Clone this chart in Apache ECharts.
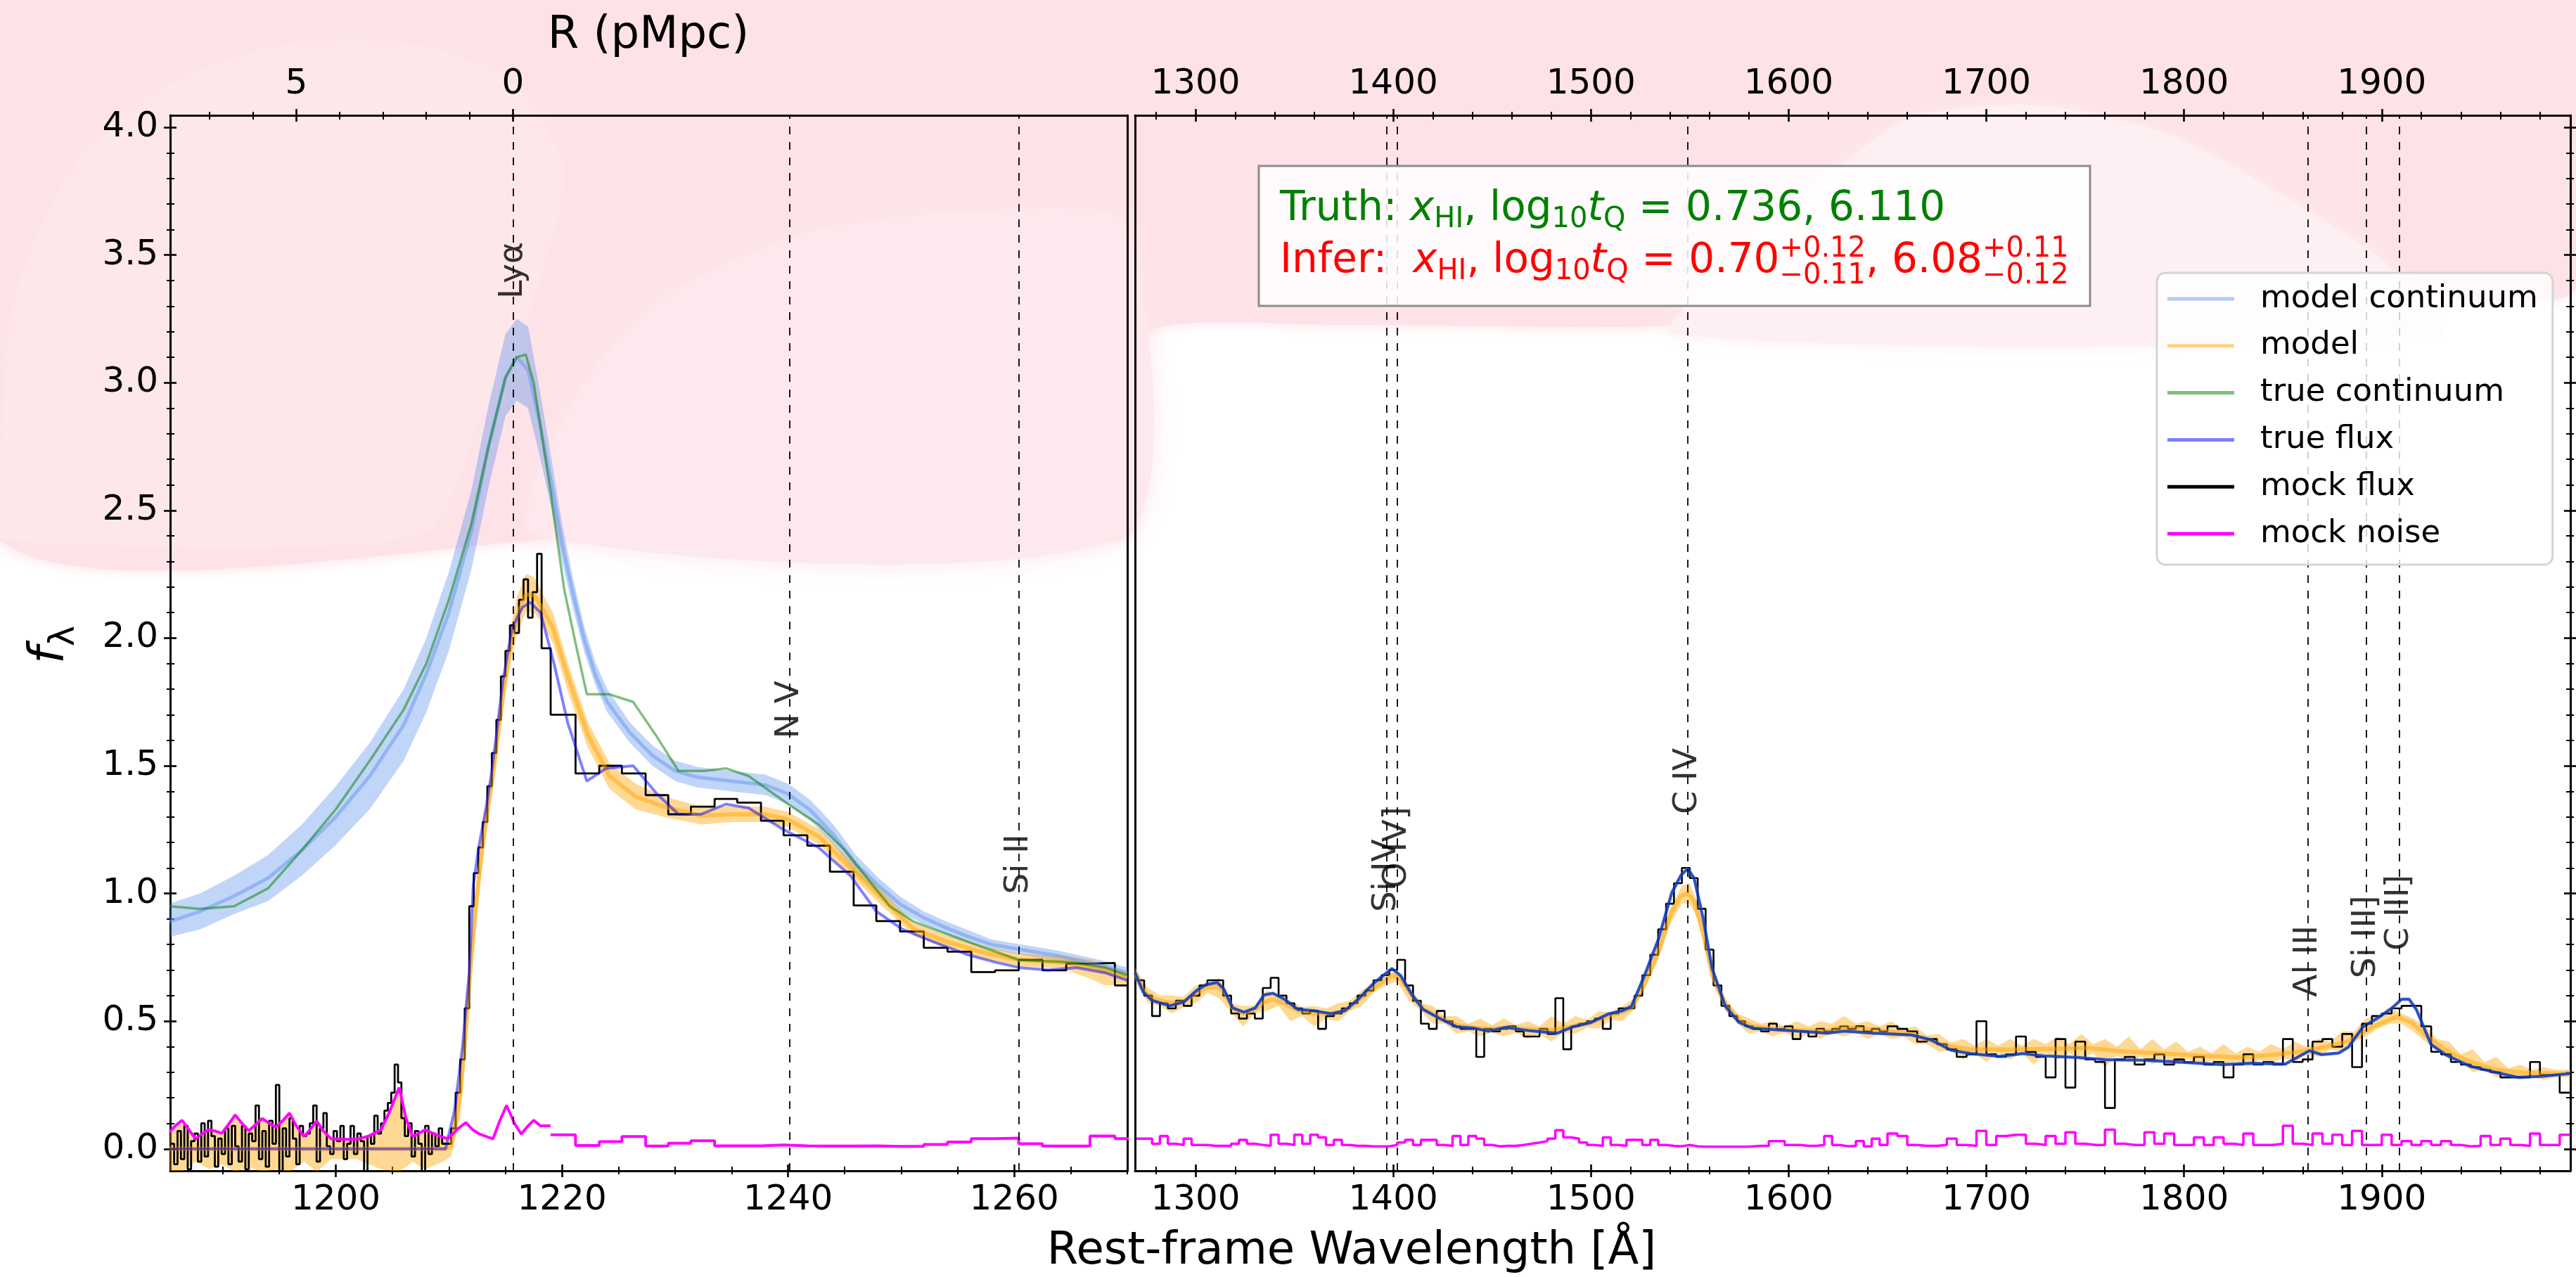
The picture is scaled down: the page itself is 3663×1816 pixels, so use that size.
<!DOCTYPE html>
<html>
<head>
<meta charset="utf-8">
<script src="https://cdn.jsdelivr.net/npm/echarts@6/dist/echarts.min.js"></script>
<style>
  html, body { margin: 0; padding: 0; background: #ffffff; }
  #chart { width: 3663px; height: 1816px; }
</style>
</head>
<body>
<div id="chart"></div>
<script>
// ---------------------------------------------------------------------------
// Quasar spectrum: Lyα region (left panel) and red side (right panel)
// ---------------------------------------------------------------------------
const FONT = '"DejaVu Sans", sans-serif';
const TICK_FS = 50;

// axis ranges
const L_MIN = 1185.35, L_MAX = 1270.0;
const R_MIN = 1269.4, R_MAX = 1995.4;
const Y_MIN = -0.086, Y_MAX = 4.047;

// proper distance axis: R = 0 at Lyα, linear in wavelength
const LYA = 1215.67;
const ANG_PER_PMPC = 3.833;

// tick positions / labels
const leftMajor = [1200, 1220, 1240, 1260];
const leftMinor = [1190, 1195, 1205, 1210, 1215, 1225, 1230, 1235, 1245, 1250, 1255, 1265, 1270];
const rightMajor = [1300, 1400, 1500, 1600, 1700, 1800, 1900];
const rightMinor = [1280, 1320, 1340, 1360, 1380, 1420, 1440, 1460, 1480, 1520, 1540, 1560, 1580,
                    1620, 1640, 1660, 1680, 1720, 1740, 1760, 1780, 1820, 1840, 1860, 1880, 1920, 1940, 1960, 1980];
const yMajor = [0, 0.5, 1.0, 1.5, 2.0, 2.5, 3.0, 3.5, 4.0];
const rMajor = [5, 0];
const rMinor = [1, 2, 3, 4, 6, 7];

// emission-line markers
const leftLineMarks = [['Lyα', 1215.67, 3.44], ['N V', 1240.14, 1.72], ['Si II', 1260.42, 1.115]];
const rightLineMarks = [['Si IV', 1396.76, 1.07], ['O IV]', 1402.06, 1.18], ['C IV', 1549.06, 1.44],
                        ['Al III', 1862.79, 0.735], ['Si III]', 1892.03, 0.83], ['C III]', 1908.73, 0.925]];

// ---------------- left panel ----------------
// model continuum: centre and 1-sigma band [λ, lo, hi]
const modelContLeft = [[1185.3,0.89],[1188,0.93],[1191,0.99],[1194,1.06],[1197,1.17],[1200,1.30],[1203,1.46],[1206,1.66],
  [1208,1.86],[1210,2.10],[1212,2.42],[1213.5,2.75],[1215,3.02],[1216,3.10],[1217,3.05],[1218,2.85],[1219,2.62],[1220,2.37],
  [1221,2.17],[1222,1.99],[1223,1.85],[1224,1.75],[1226,1.63],[1228,1.54],[1230,1.48],[1232,1.455],[1234,1.445],[1236,1.435],
  [1238,1.425],[1240,1.39],[1242,1.325],[1244,1.23],[1246,1.115],[1248,1.03],[1250,0.955],[1252,0.905],[1254,0.865],
  [1256,0.83],[1258,0.80],[1260,0.785],[1262,0.77],[1264,0.755],[1266,0.735],[1268,0.715],[1270,0.69]];
const modelContBandLeft = [[1185.3,0.83,0.96],[1188,0.86,1.00],[1191,0.92,1.07],[1194,0.97,1.15],[1197,1.07,1.27],
  [1200,1.19,1.42],[1203,1.33,1.59],[1206,1.52,1.80],[1208,1.71,2.00],[1210,1.95,2.26],[1212,2.27,2.58],[1213.5,2.59,2.91],
  [1215,2.87,3.19],[1216,2.93,3.25],[1217,2.90,3.22],[1218,2.72,2.98],[1219,2.52,2.72],[1220,2.30,2.45],[1221,2.11,2.23],
  [1222,1.94,2.04],[1223,1.81,1.90],[1224,1.71,1.80],[1226,1.59,1.67],[1228,1.50,1.58],[1230,1.44,1.52],[1232,1.415,1.495],
  [1234,1.405,1.485],[1236,1.395,1.475],[1238,1.385,1.465],[1240,1.35,1.43],[1242,1.285,1.365],[1244,1.19,1.27],
  [1246,1.08,1.15],[1248,1.00,1.06],[1250,0.925,0.985],[1252,0.88,0.93],[1254,0.84,0.89],[1256,0.805,0.855],
  [1258,0.78,0.82],[1260,0.765,0.805],[1262,0.75,0.79],[1264,0.735,0.775],[1266,0.715,0.755],[1268,0.695,0.735],[1270,0.67,0.71]];

// model flux: centre and band
const modelLeft = [[1185.3,0],[1209.7,0],[1210.2,0.01],[1211,0.21],[1211.5,0.46],[1212,0.75],[1212.5,1.0],[1213,1.2],
  [1213.5,1.35],[1214,1.5],[1214.5,1.68],[1215,1.85],[1215.5,1.98],[1216,2.08],[1216.8,2.17],[1217.5,2.17],[1218.2,2.12],
  [1219.2,2.04],[1220.6,1.84],[1222.3,1.62],[1224.2,1.46],[1226.5,1.38],[1229,1.34],[1232.3,1.305],[1235.1,1.31],
  [1237.9,1.31],[1240,1.29],[1242.8,1.22],[1245.3,1.11],[1248.1,0.99],[1251.1,0.86],[1254.1,0.81],[1257.2,0.77],
  [1260.4,0.74],[1264.3,0.73],[1266.8,0.71],[1270,0.67]];
const modelBandLeft = [[1185.3,-0.09,0.066],[1186.4,-0.09,0.112],[1187.6,-0.05,0.039],[1188.8,-0.08,0.075],
  [1189.9,-0.06,0.061],[1191.1,-0.09,0.133],[1192.3,-0.07,0.071],[1193.5,-0.09,0.119],[1194.7,-0.08,0.085],
  [1195.9,-0.09,0.14],[1197.2,-0.05,0.048],[1198.3,-0.09,0.109],[1199.6,-0.04,0.039],[1201.8,-0.04,0.037],
  [1204,-0.08,0.075],[1205.6,-0.09,0.24],[1206.8,-0.05,0.048],[1207.9,-0.08,0.075],[1209.5,-0.05,0.045],
  [1210.2,-0.03,0.06],[1211,0.12,0.30],[1211.5,0.38,0.55],[1212,0.68,0.82],
  [1212.5,0.93,1.07],[1213,1.13,1.27],[1213.5,1.29,1.41],[1214,1.44,1.56],[1214.5,1.62,1.74],[1215,1.78,1.91],
  [1215.5,1.91,2.05],[1216,2.01,2.16],[1216.8,2.10,2.25],[1217.5,2.10,2.24],[1218.2,2.06,2.18],[1219.2,1.98,2.10],
  [1220.6,1.78,1.89],[1222.3,1.57,1.67],[1224.2,1.41,1.51],[1226.5,1.33,1.43],[1229,1.30,1.38],[1232.3,1.27,1.34],
  [1235.1,1.28,1.34],[1237.9,1.28,1.34],[1240,1.26,1.32],[1242.8,1.19,1.25],[1245.3,1.08,1.14],[1248.1,0.96,1.02],
  [1251.1,0.835,0.885],[1254.1,0.785,0.835],[1257.2,0.745,0.795],[1260.4,0.715,0.765],[1264.3,0.705,0.755],
  [1266.8,0.665,0.74],[1268,0.64,0.72],[1270,0.645,0.69]];

const trueContLeft = [[1185.3,0.95],[1188,0.94],[1191,0.95],[1194,1.02],[1197,1.17],[1200,1.33],[1203,1.52],[1206,1.72],
  [1208,1.90],[1210,2.15],[1212,2.45],[1213.5,2.75],[1215,3.02],[1216,3.10],[1216.8,3.11],[1217.5,3.0],[1218.2,2.80],
  [1219,2.57],[1220.2,2.19],[1221.2,1.98],[1222.2,1.78],[1224.2,1.78],[1226.3,1.75],[1228.3,1.62],[1230.3,1.48],
  [1232.6,1.48],[1234.5,1.49],[1236.5,1.46],[1240,1.35],[1242.7,1.27],[1245,1.17],[1247,1.06],[1249,0.95],[1251.1,0.89],
  [1254.1,0.84],[1257.2,0.79],[1260.4,0.74],[1265.3,0.73],[1268,0.71],[1270,0.68]];

const trueFluxLeft = [[1185.3,0],[1209.7,0],[1210.5,0.15],[1211.2,0.4],[1211.8,0.69],[1212.15,1.03],[1212.6,1.17],
  [1213.3,1.34],[1213.7,1.45],[1214.2,1.62],[1214.8,1.84],[1215.6,2.04],[1216.5,2.12],[1217.2,2.14],[1218.1,2.10],
  [1219.3,1.90],[1220.5,1.67],[1222.2,1.44],[1223.9,1.49],[1226.3,1.50],[1228.4,1.39],[1230.3,1.31],[1232.3,1.31],
  [1234.5,1.35],[1236.5,1.335],[1239.6,1.25],[1242.7,1.18],[1245.5,1.07],[1247.8,0.93],[1250.1,0.86],[1252.9,0.81],
  [1255.9,0.76],[1258.4,0.73],[1260.4,0.71],[1263,0.70],[1265.5,0.71],[1268,0.69],[1270,0.66]];

// mock spectrum in the proximity zone: 0.3 Å pixels from 1185.4 Å
const troughBins = { start: 1185.4, width: 0.3 };
const troughFlux = [
  0.02, -0.06, 0.07, -0.04, 0.09, -0.08, 0.03, 0.06, -0.05, 0.10,
  -0.03, 0.11, 0.05, -0.07, 0.04, -0.02, 0.08, -0.06, 0.09, 0.01,
  -0.05, 0.09, -0.08, 0.06, 0.03, 0.17, -0.04, 0.07, -0.07, 0.11,
  0.02, 0.25, -0.09, 0.08, -0.03, 0.12, 0.04, -0.06, 0.09, 0.05,
  0.06, 0.10, 0.17, -0.05, 0.08, 0.14, 0.01, -0.02, 0.07, 0.03,
  0.09, -0.04, 0.02, 0.09, -0.02, 0.06, 0.03, -0.09, 0.05, 0.02,
  0.13, 0.06, 0.10, 0.15, 0.18, 0.22, 0.33, 0.26, 0.12, 0.05,
  0.10, -0.03, 0.07, 0.02, -0.09, 0.09, -0.02, 0.06, 0.01, 0.08, 0.02];
// mock spectrum across the Lyα edge: 0.4 Å pixels from 1209.8 Å
const edgeBins = { start: 1209.8, width: 0.4 };
const edgeFlux = [0.02, 0.08, 0.22, 0.35, 0.55, 0.95, 1.08, 1.18, 1.28, 1.42, 1.55, 1.68, 1.85, 1.95, 2.05, 2.02,
  2.15, 2.23, 2.08, 2.18, 2.33, 1.96, 1.96];
const leftNoiseFine = [[1185.3,0.066],[1185.8,0.09],[1186.4,0.112],[1187,0.075],[1187.6,0.039],[1188.2,0.06],[1188.8,0.075],
  [1189.3,0.07],[1189.9,0.061],[1190.5,0.095],[1191.1,0.133],[1191.7,0.1],[1192.3,0.071],[1192.9,0.095],[1193.5,0.119],
  [1194.1,0.1],[1194.7,0.085],[1195.3,0.11],[1195.9,0.14],[1196.5,0.09],[1197.2,0.048],[1197.8,0.08],[1198.3,0.109],
  [1198.9,0.07],[1199.6,0.039],[1200.7,0.037],[1201.8,0.037],[1202.9,0.05],[1204,0.075],[1204.8,0.15],[1205.6,0.24],
  [1206.2,0.12],[1206.8,0.048],[1207.3,0.06],[1207.9,0.075],[1208.9,0.055],[1209.9,0.039],[1210.7,0.075],[1211.5,0.103],
  [1212.1,0.075],[1212.7,0.058],[1213.9,0.039],[1214.5,0.11],[1215.1,0.17],[1215.8,0.1],[1216.4,0.058],[1217,0.09],
  [1217.5,0.112],[1218.1,0.09],[1219,0.09]];

// mock spectrum: coarse pixels redward of 1219 Å (left bin edges)
const leftCoarseEdges = [1219.0, 1221.2, 1223.3, 1225.3, 1227.4, 1229.4, 1231.4, 1233.5, 1235.5, 1237.6, 1239.6, 1241.7,
  1243.7, 1245.8, 1247.8, 1249.9, 1252.0, 1254.1, 1256.2, 1258.3, 1260.4, 1262.5, 1264.6, 1266.7, 1268.9];
const leftCoarseEnd = 1271.0;
const leftCoarseFlux = [1.70, 1.47, 1.50, 1.47, 1.385, 1.31, 1.34, 1.37, 1.356, 1.285, 1.228, 1.187, 1.085, 0.953,
  0.892, 0.851, 0.787, 0.772, 0.692, 0.699, 0.74, 0.699, 0.725, 0.728, 0.64];
const leftCoarseNoise = [0.055, 0.013, 0.028, 0.048, 0.011, 0.022, 0.032, 0.012, 0.012, 0.015, 0.012, 0.011, 0.011,
  0.012, 0.010, 0.010, 0.017, 0.027, 0.040, 0.042, 0.020, 0.011, 0.011, 0.050, 0.040];

// ---------------- right panel ----------------
// continuum (model and truth coincide here) and unabsorbed true flux
const trueContRight = [[1269.4,0.69],[1273.5,0.615],[1278,0.581],[1287,0.56],[1294,0.575],[1300.7,0.621],[1305.3,0.643],
  [1311,0.651],[1314.3,0.626],[1318.8,0.552],[1324.5,0.535],[1330.2,0.552],[1334.7,0.603],[1339.2,0.609],[1344.9,0.586],
  [1351.7,0.546],[1359.6,0.541],[1368.7,0.529],[1375.5,0.541],[1382.3,0.586],[1390.2,0.649],[1399.3,0.706],[1403.8,0.678],
  [1409.5,0.603],[1415.1,0.546],[1423.1,0.512],[1432.1,0.478],[1441.2,0.472],[1448,0.461],[1457,0.476],[1468.4,0.463],
  [1479.7,0.455],[1483,0.453],[1491,0.478],[1500,0.495],[1509,0.529],[1516,0.541],[1520.5,0.558],[1527.3,0.683],
  [1534.1,0.82],[1540.9,1.003],[1545.5,1.071],[1548.9,1.097],[1552.2,1.06],[1556.8,0.9],[1561.3,0.706],[1568,0.558],
  [1575,0.495],[1581.7,0.472],[1593,0.467],[1604.4,0.461],[1619.8,0.453],[1628,0.461],[1643,0.453],[1662,0.446],
  [1672,0.427],[1682,0.387],[1692,0.373],[1706.5,0.362],[1718.7,0.373],[1728.5,0.364],[1745.7,0.358],[1760.4,0.349],
  [1780,0.347],[1799.7,0.339],[1819.3,0.33],[1834,0.335],[1851.2,0.332],[1858.6,0.364],[1863.5,0.384],[1869.6,0.369],
  [1878.2,0.375],[1883.1,0.398],[1890.5,0.478],[1897.9,0.512],[1905.2,0.552],[1910.1,0.586],[1913.8,0.586],[1917.5,0.546],
  [1924.9,0.409],[1932.2,0.369],[1944.5,0.324],[1956.8,0.301],[1969,0.28],[1981.3,0.284],[1995.4,0.295]];

const modelRight = [[1269.4,0.69],[1273.5,0.62],[1278,0.59],[1287,0.57],[1294,0.575],[1300.7,0.61],[1305.3,0.63],[1311,0.635],
  [1314.3,0.615],[1318.8,0.55],[1324.5,0.53],[1330.2,0.545],[1334.7,0.575],[1339.2,0.585],[1344.9,0.57],[1351.7,0.54],
  [1359.6,0.53],[1368.7,0.53],[1375.5,0.54],[1382.3,0.58],[1390.2,0.63],[1399.3,0.68],[1403.8,0.665],[1409.5,0.60],
  [1415.1,0.55],[1423.1,0.515],[1432.1,0.485],[1441.2,0.475],[1448,0.468],[1457,0.475],[1468.4,0.468],[1479.7,0.465],
  [1491,0.48],[1500,0.495],[1509,0.52],[1516,0.535],[1520.5,0.55],[1527.3,0.65],[1534.1,0.77],[1540.9,0.93],[1545.5,0.99],
  [1548.9,1.0],[1552.2,0.97],[1556.8,0.84],[1561.3,0.68],[1568,0.565],[1575,0.505],[1581.7,0.48],[1593,0.47],[1604.4,0.465],
  [1619.8,0.462],[1628,0.478],[1650,0.461],[1662,0.45],[1677,0.41],[1691.7,0.389],[1711,0.389],[1736,0.392],[1750.6,0.395],
  [1770,0.381],[1790,0.373],[1809.5,0.364],[1829,0.358],[1846,0.369],[1858.6,0.381],[1870.9,0.398],[1883,0.421],
  [1895.4,0.478],[1907.7,0.518],[1915,0.495],[1922.4,0.444],[1932.2,0.387],[1944.5,0.341],[1956.8,0.312],[1971.5,0.298],
  [1988.7,0.295],[1995.4,0.295]];
const modelBandRight = [[1269.4,0.66,0.71],[1276,0.57,0.63],[1282,0.56,0.60],[1288,0.53,0.60],[1294,0.555,0.595],
  [1300,0.57,0.64],[1306,0.61,0.65],[1312,0.59,0.67],[1318,0.535,0.57],[1324,0.48,0.56],[1330,0.53,0.56],[1336,0.54,0.62],
  [1342,0.56,0.60],[1348,0.50,0.58],[1354,0.52,0.555],[1360,0.48,0.56],[1366,0.51,0.55],[1372,0.50,0.57],[1378,0.54,0.58],
  [1384,0.56,0.62],[1390,0.61,0.65],[1396,0.64,0.69],[1402,0.655,0.69],[1408,0.58,0.64],[1414,0.54,0.57],[1420,0.49,0.56],
  [1426,0.49,0.52],[1432,0.45,0.52],[1438,0.46,0.49],[1444,0.44,0.51],[1450,0.455,0.485],[1456,0.44,0.51],[1462,0.455,0.485],
  [1468,0.43,0.50],[1474,0.45,0.48],[1480,0.42,0.52],[1486,0.455,0.49],[1492,0.45,0.52],[1498,0.475,0.505],[1504,0.47,0.54],
  [1510,0.505,0.535],[1516,0.50,0.56],[1522,0.55,0.59],[1528,0.64,0.69],[1534,0.74,0.80],[1540,0.88,0.94],[1546,0.96,1.03],
  [1550,0.96,1.04],[1554,0.90,0.96],[1558,0.77,0.83],[1562,0.64,0.69],[1568,0.54,0.59],[1574,0.49,0.53],[1580,0.45,0.51],
  [1586,0.46,0.49],[1592,0.44,0.50],[1598,0.455,0.48],[1604,0.43,0.50],[1610,0.45,0.48],[1616,0.43,0.50],[1622,0.455,0.49],
  [1628,0.44,0.52],[1634,0.455,0.49],[1640,0.43,0.50],[1646,0.45,0.48],[1652,0.43,0.50],[1658,0.44,0.47],[1664,0.41,0.48],
  [1670,0.41,0.445],[1676,0.38,0.45],[1682,0.385,0.415],[1688,0.35,0.43],[1694,0.375,0.405],[1700,0.34,0.43],
  [1706,0.375,0.405],[1712,0.35,0.43],[1718,0.375,0.405],[1724,0.33,0.43],[1730,0.375,0.41],[1736,0.35,0.44],
  [1742,0.375,0.41],[1748,0.35,0.45],[1754,0.375,0.41],[1760,0.32,0.43],[1766,0.365,0.40],[1772,0.34,0.44],
  [1778,0.36,0.39],[1784,0.33,0.43],[1790,0.355,0.39],[1796,0.33,0.42],[1802,0.35,0.38],[1808,0.33,0.40],
  [1814,0.345,0.375],[1820,0.32,0.41],[1826,0.343,0.373],[1832,0.32,0.40],[1838,0.35,0.38],[1844,0.33,0.41],
  [1850,0.355,0.39],[1856,0.34,0.42],[1862,0.37,0.40],[1868,0.36,0.43],[1874,0.39,0.42],[1880,0.38,0.46],[1886,0.42,0.46],
  [1892,0.44,0.51],[1898,0.47,0.52],[1904,0.49,0.55],[1910,0.49,0.53],[1916,0.46,0.51],[1922,0.42,0.48],[1928,0.39,0.43],
  [1934,0.35,0.42],[1940,0.34,0.37],[1946,0.30,0.39],[1952,0.31,0.34],[1958,0.28,0.36],[1964,0.29,0.315],[1970,0.27,0.33],
  [1976,0.28,0.31],[1982,0.27,0.32],[1988,0.28,0.31],[1995.4,0.28,0.31]];

// mock spectrum pixels: 4 Å bins from 1270 Å, then 5 Å bins from 1650 Å
const rightBinsA = { start: 1270, width: 4 };
const rightFluxA = [
  0.66, 0.60, 0.52, 0.57, 0.55, 0.58, 0.56, 0.60, 0.64, 0.66,
  0.66, 0.60, 0.53, 0.51, 0.53, 0.51, 0.63, 0.67, 0.60, 0.57,
  0.55, 0.53, 0.54, 0.47, 0.52, 0.53, 0.55, 0.57, 0.60, 0.62,
  0.66, 0.68, 0.70, 0.74, 0.64, 0.58, 0.49, 0.47, 0.54, 0.50,
  0.48, 0.47, 0.47, 0.36, 0.47, 0.46, 0.47, 0.48, 0.46, 0.44,
  0.44, 0.47, 0.45, 0.59, 0.39, 0.48, 0.49, 0.50, 0.51, 0.47,
  0.53, 0.55, 0.55, 0.60, 0.68, 0.76, 0.86, 0.96, 1.04, 1.10,
  1.06, 0.94, 0.78, 0.64, 0.56, 0.52, 0.50, 0.48, 0.47, 0.46,
  0.49, 0.47, 0.48, 0.43, 0.46, 0.44, 0.47, 0.46, 0.47, 0.48,
  0.47, 0.48, 0.46, 0.47, 0.46];
const rightNoiseA = [
  0.04, 0.04, 0.02, 0.05, 0.02, 0.015, 0.04, 0.015, 0.015, 0.012,
  0.012, 0.012, 0.02, 0.035, 0.02, 0.015, 0.012, 0.055, 0.02, 0.015,
  0.055, 0.02, 0.055, 0.045, 0.015, 0.035, 0.015, 0.012, 0.012, 0.01,
  0.01, 0.01, 0.015, 0.025, 0.035, 0.015, 0.035, 0.035, 0.015, 0.012,
  0.05, 0.015, 0.05, 0.04, 0.015, 0.01, 0.012, 0.012, 0.015, 0.02,
  0.025, 0.03, 0.04, 0.073, 0.045, 0.04, 0.025, 0.015, 0.012, 0.045,
  0.015, 0.012, 0.035, 0.035, 0.015, 0.035, 0.015, 0.012, 0.01, 0.015,
  0.01, 0.008, 0.008, 0.008, 0.008, 0.008, 0.008, 0.01, 0.012, 0.012,
  0.03, 0.03, 0.015, 0.015, 0.012, 0.012, 0.015, 0.05, 0.015, 0.01,
  0.012, 0.03, 0.01, 0.04, 0.015];
const rightBinsB = { start: 1650, width: 5 };
const rightFluxB = [
  0.48, 0.47, 0.46, 0.42, 0.43, 0.41, 0.39, 0.36, 0.37, 0.50,
  0.37, 0.36, 0.37, 0.44, 0.38, 0.36, 0.28, 0.43, 0.24, 0.42,
  0.35, 0.34, 0.16, 0.35, 0.36, 0.33, 0.35, 0.37, 0.33, 0.35,
  0.34, 0.36, 0.33, 0.34, 0.28, 0.33, 0.37, 0.33, 0.34, 0.33,
  0.43, 0.34, 0.35, 0.42, 0.43, 0.40, 0.45, 0.32, 0.49, 0.52,
  0.53, 0.55, 0.56, 0.56, 0.48, 0.38, 0.37, 0.34, 0.33, 0.32,
  0.31, 0.30, 0.28, 0.28, 0.28, 0.34, 0.29, 0.29, 0.22];
const rightNoiseB = [
  0.06, 0.05, 0.015, 0.012, 0.012, 0.015, 0.04, 0.015, 0.012, 0.07,
  0.015, 0.05, 0.055, 0.055, 0.02, 0.015, 0.05, 0.02, 0.065, 0.02,
  0.015, 0.015, 0.075, 0.02, 0.015, 0.015, 0.065, 0.02, 0.06, 0.015,
  0.015, 0.045, 0.015, 0.045, 0.02, 0.015, 0.06, 0.015, 0.015, 0.02,
  0.09, 0.02, 0.015, 0.06, 0.02, 0.055, 0.015, 0.07, 0.015, 0.015,
  0.055, 0.015, 0.03, 0.015, 0.03, 0.015, 0.03, 0.015, 0.01, 0.012,
  0.05, 0.015, 0.04, 0.015, 0.012, 0.06, 0.015, 0.015, 0.055];

// ---------------------------------------------------------------------------
// colours (matplotlib named colours drawn at alpha 0.5)
const C_MODEL_CONT = '#6495ed';   // cornflowerblue
const C_MODEL = '#ffa500';        // orange
const C_TRUE_CONT = '#008000';    // green
const C_TRUE_FLUX = '#0000ff';    // blue
const C_MOCK = '#000000';
const C_NOISE = '#ff00ff';

// ---------------------------------------------------------------------------
// helpers that turn the arrays into series data
function stepData(edges, values, end) {
  const d = edges.map((e, i) => [e, values[i]]);
  d.push([end, values[values.length - 1]]);
  return d;
}
function regularEdges(bins, n) {
  const e = [];
  for (let i = 0; i < n; i++) e.push(+(bins.start + i * bins.width).toFixed(3));
  return e;
}
const troughEdges = regularEdges(troughBins, troughFlux.length);
const edgeEdges = regularEdges(edgeBins, edgeFlux.length);
const leftMockData = troughEdges.map((e, i) => [e, troughFlux[i]])
  .concat(edgeEdges.map((e, i) => [e, edgeFlux[i]]))
  .concat(stepData(leftCoarseEdges, leftCoarseFlux, leftCoarseEnd));
const leftNoiseStep = stepData(leftCoarseEdges, leftCoarseNoise, leftCoarseEnd);

const edgesA = regularEdges(rightBinsA, rightFluxA.length);
const edgesB = regularEdges(rightBinsB, rightFluxB.length);
const rightEnd = rightBinsB.start + rightFluxB.length * rightBinsB.width;
const rightMockData = edgesA.map((e, i) => [e, rightFluxA[i]]).concat(stepData(edgesB, rightFluxB, rightEnd));
const rightNoiseData = edgesA.map((e, i) => [e, rightNoiseA[i]]).concat(stepData(edgesB, rightNoiseB, rightEnd));

// ---------------------------------------------------------------------------
function lineSeries(name, xi, yi, data, color, width, opacity, extra) {
  return Object.assign({
    type: 'line', name, xAxisIndex: xi, yAxisIndex: yi, data,
    symbol: 'none', showSymbol: false, silent: true, animation: false,
    lineStyle: { color, width, opacity }, itemStyle: { color },
    emphasis: { disabled: true }
  }, extra || {});
}
// shaded band between lo and hi, drawn as one polygon through the axis scales
function bandSeries(xi, yi, rows, color, opacity) {
  return {
    type: 'custom', xAxisIndex: xi, yAxisIndex: yi, silent: true, animation: false, clip: true,
    data: rows, encode: { x: 0, y: [1, 2] },
    renderItem: function (params, api) {
      if (params.dataIndex !== 0) return null;
      const upper = rows.map(r => api.coord([r[0], r[2]]));
      const lower = rows.slice().reverse().map(r => api.coord([r[0], r[1]]));
      return { type: 'polygon', shape: { points: upper.concat(lower) }, style: { fill: color, opacity: opacity } };
    }
  };
}
function markerSeries(xi, yi, lines, marks) {
  return {
    type: 'scatter', xAxisIndex: xi, yAxisIndex: yi, silent: true, animation: false,
    symbolSize: 0, clip: false, z: 6,
    data: marks.map(m => ({ name: m[0], value: [m[1], m[2]] })),
    label: { show: true, formatter: '{b}', rotate: 90, position: 'inside',
             fontSize: 47, fontFamily: FONT, color: '#000' },
    markLine: {
      silent: true, symbol: ['none', 'none'], animation: false,
      label: { show: false },
      lineStyle: { type: [11, 11], color: '#000', width: 1.8 },
      data: lines.map(v => ({ xAxis: v }))
    }
  };
}

// axes: each tick set is drawn twice (inward + outward) so ticks straddle the spine
function axisCfg(grid, pos, min, max, ticks, o) {
  o = o || {};
  return {
    type: 'value', gridIndex: grid, position: pos, min, max,
    axisLine: { show: !!o.line, onZero: false, lineStyle: { color: '#000', width: 3 } },
    axisTick: ticks ? { show: true, customValues: ticks, inside: !!o.inside, length: o.len || 9,
                        lineStyle: { color: '#000', width: o.tw || 2.6 } } : { show: false },
    axisLabel: o.labels ? { show: true, customValues: o.labels, formatter: o.fmt || (v => String(v)),
                            fontSize: TICK_FS, fontFamily: FONT, color: '#000', margin: o.margin || 17 }
                        : { show: false },
    splitLine: { show: false }, minorTick: { show: false }, minorSplitLine: { show: false },
    silent: true
  };
}
function tickSet(grid, pos, min, max, major, minor, first) {
  return [
    axisCfg(grid, pos, min, max, major, Object.assign({ line: true }, first || {})),
    axisCfg(grid, pos, min, max, major, { inside: true }),
    axisCfg(grid, pos, min, max, minor, { len: 5, tw: 2 }),
    axisCfg(grid, pos, min, max, minor, { inside: true, len: 6, tw: 2 })
  ];
}

const yMinor = [];
for (let i = 1; i < 40; i++) if (i % 5 !== 0) yMinor.push(+(i * 0.1).toFixed(1));
const rToLambda = r => +(LYA - r * ANG_PER_PMPC).toFixed(3);

const xAxes = []
  // 0-3: left panel, wavelength, bottom
  .concat(tickSet(0, 'bottom', L_MIN, L_MAX, leftMajor, leftMinor, { labels: leftMajor, margin: 17 }))
  // 4-7: left panel, distance from quasar, top
  .concat(tickSet(0, 'top', L_MIN, L_MAX, rMajor.map(rToLambda), rMinor.map(rToLambda),
    { labels: rMajor.map(rToLambda), margin: 19, fmt: v => String(Math.round((LYA - v) / ANG_PER_PMPC)) }))
  // 8-11: right panel, wavelength, bottom
  .concat(tickSet(1, 'bottom', R_MIN, R_MAX, rightMajor, rightMinor, { labels: rightMajor, margin: 17 }))
  // 12-15: right panel, wavelength, top
  .concat(tickSet(1, 'top', R_MIN, R_MAX, rightMajor, rightMinor, { labels: rightMajor, margin: 19 }));

const yAxes = []
  // 0-3: left panel, labelled
  .concat(tickSet(0, 'left', Y_MIN, Y_MAX, yMajor, yMinor, { labels: yMajor, margin: 17, fmt: v => v.toFixed(1) }))
  // 4: left panel right spine
  .concat([axisCfg(0, 'right', Y_MIN, Y_MAX, null, { line: true })])
  // 5: right panel left spine (data axis)
  .concat([axisCfg(1, 'left', Y_MIN, Y_MAX, null, { line: true })])
  // 6-9: right panel, right spine with ticks
  .concat(tickSet(1, 'right', Y_MIN, Y_MAX, yMajor, yMinor));

// ---------------------------------------------------------------------------
// series (drawing order: mock flux, model continuum, model, true continuum, true flux, noise)
const series = [];
// left panel
series.push(lineSeries('mock flux', 0, 0, leftMockData, C_MOCK, 2.8, 1, { step: 'end' }));
series.push(bandSeries(0, 0, modelContBandLeft, C_MODEL_CONT, 0.4));
series.push(lineSeries('model continuum', 0, 0, modelContLeft, C_MODEL_CONT, 5, 0.5));
series.push(bandSeries(0, 0, modelBandLeft, C_MODEL, 0.42));
series.push(lineSeries('model', 0, 0, modelLeft, C_MODEL, 6, 0.5));
series.push(lineSeries('true continuum', 0, 0, trueContLeft, C_TRUE_CONT, 3.5, 0.5));
series.push(lineSeries('true flux', 0, 0, trueFluxLeft, C_TRUE_FLUX, 4, 0.5));
series.push(lineSeries('mock noise', 0, 0, leftNoiseFine, C_NOISE, 4, 1));
series.push(lineSeries('mock noise', 0, 0, leftNoiseStep, C_NOISE, 4, 1, { step: 'end' }));
series.push(markerSeries(0, 0, leftLineMarks.map(m => m[1]), leftLineMarks));
// right panel
series.push(lineSeries('mock flux', 8, 5, rightMockData, C_MOCK, 2.6, 1, { step: 'end' }));
series.push(bandSeries(8, 5, modelBandRight, C_MODEL, 0.42));
series.push(lineSeries('model', 8, 5, modelRight, C_MODEL, 6, 0.5));
series.push(lineSeries('model continuum', 8, 5, trueContRight, C_MODEL_CONT, 5, 0.5));
series.push(lineSeries('true continuum', 8, 5, trueContRight, C_TRUE_CONT, 3.5, 0.5));
series.push(lineSeries('true flux', 8, 5, trueContRight, C_TRUE_FLUX, 4, 0.5));
series.push(lineSeries('mock noise', 8, 5, rightNoiseData, C_NOISE, 3.5, 1, { step: 'end' }));
series.push(markerSeries(8, 5, rightLineMarks.map(m => m[1]), rightLineMarks));

// ---------------------------------------------------------------------------
// text with sub/superscripts, laid out run by run
const measureCtx = document.createElement('canvas').getContext('2d');
function fontStr(size, it) { return (it ? 'italic ' : '') + size + 'px "DejaVu Sans"'; }
function midToBase(size) {
  measureCtx.font = fontStr(size, false);
  measureCtx.textBaseline = 'middle';
  const m = measureCtx.measureText('H');
  return m.actualBoundingBoxDescent || size * 0.32;
}
function textEl(t, x, baseY, size, it, color, z) {
  return {
    type: 'text', x, y: baseY - midToBase(size), z: z || 20, silent: true,
    style: { text: t, fill: color, fontSize: size, fontFamily: FONT, fontStyle: it ? 'italic' : 'normal',
             align: 'left', verticalAlign: 'middle' }
  };
}
function mathRuns(runs, x0, baseY, color) {
  let x = x0; const out = [];
  for (const r of runs) {
    if (r.sup !== undefined) {
      measureCtx.font = fontStr(r.s, false);
      const w = Math.max(measureCtx.measureText(r.sup).width, measureCtx.measureText(r.sub).width);
      out.push(textEl(r.sup, x, baseY + r.supDy, r.s, false, color));
      out.push(textEl(r.sub, x, baseY + r.subDy, r.s, false, color));
      x += w;
    } else {
      measureCtx.font = fontStr(r.s, r.it);
      out.push(textEl(r.t, x, baseY + (r.dy || 0), r.s, r.it, color));
      x += measureCtx.measureText(r.t).width;
    }
  }
  return out;
}

const MAIN = 58, SUB = 40;
const truthRuns = [
  { t: 'Truth: ', s: MAIN }, { t: 'x', s: MAIN, it: true }, { t: 'HI', s: SUB, dy: 10 }, { t: ', ', s: MAIN },
  { t: 'log', s: MAIN }, { t: '10', s: SUB, dy: 10 }, { t: 't', s: MAIN, it: true }, { t: 'Q', s: SUB, dy: 10 },
  { t: ' = ', s: MAIN }, { t: '0.736, 6.110', s: MAIN }];
const inferRuns = [
  { t: 'Infer:  ', s: MAIN }, { t: 'x', s: MAIN, it: true }, { t: 'HI', s: SUB, dy: 10 }, { t: ', ', s: MAIN },
  { t: 'log', s: MAIN }, { t: '10', s: SUB, dy: 10 }, { t: 't', s: MAIN, it: true }, { t: 'Q', s: SUB, dy: 10 },
  { t: ' = ', s: MAIN }, { t: '0.70', s: MAIN }, { sup: '+0.12', sub: '\u22120.11', s: SUB, supDy: -22, subDy: 16 },
  { t: ', ', s: MAIN }, { t: '6.08', s: MAIN }, { sup: '+0.11', sub: '\u22120.12', s: SUB, supDy: -22, subDy: 16 }];

// y-axis label f_λ, rotated
const fLambda = mathRuns([{ t: 'f', s: 70, it: true }, { t: 'λ', s: 50, dy: 15 }], -28, 0, '#000');

// soft pink wash behind the top of the figure
function haze(points, fill, blur) {
  return { type: 'polygon', z: -10, silent: true, shape: { points, smooth: 0.25 },
           style: { fill, shadowBlur: blur || 30, shadowColor: fill } };
}

const graphic = [
  haze([[0,0],[3663,0],[3663,410],[3400,420],[3000,440],[2600,455],[2300,465],[1900,462],[1640,468],
        [1610,560],[1600,765],[900,760],[0,768]], '#fde2e7', 20),
  // lighter arch on the left
  haze([[0,700],[20,430],[110,230],[260,110],[430,60],[600,65],[730,120],[800,240],[760,420],[680,600],[600,760],[0,766]], '#fde7eb', 40),
  // lighter streak right of the arch
  haze([[760,760],[820,560],[950,420],[1150,330],[1400,300],[1600,320],[1600,760]], '#fde9ed', 40),
  // pale wedge on the right
  haze([[2718,167],[2600,250],[2470,360],[2380,475],[3470,475],[3400,380],[3250,280],[3080,190],[2900,150]], '#feeff2', 30),
  // inference summary box
  { type: 'rect', z: 19, silent: true, shape: { x: 1790, y: 236, width: 1182, height: 199 },
    style: { fill: 'rgba(255,255,255,0.85)', stroke: '#8c8c8c', lineWidth: 3 } },
  ...mathRuns(truthRuns, 1820, 313, '#008000'),
  ...mathRuns(inferRuns, 1820, 387, '#ff0000'),
  // axis titles
  { type: 'text', x: 922, y: 68 - midToBase(64), z: 20, silent: true,
    style: { text: 'R (pMpc)', fontSize: 64, fontFamily: FONT, fill: '#000', align: 'center', verticalAlign: 'middle' } },
  { type: 'text', x: 1922, y: 1797 - midToBase(64), z: 20, silent: true,
    style: { text: 'Rest-frame Wavelength [Å]', fontSize: 64, fontFamily: FONT, fill: '#000', align: 'center', verticalAlign: 'middle' } },
  { type: 'group', x: 90, y: 916, rotation: Math.PI / 2, silent: true, children: fLambda }
];

const option = {
  animation: false,
  backgroundColor: '#ffffff',
  textStyle: { fontFamily: FONT },
  grid: [
    { left: 242, top: 164, width: 1361, height: 1501, show: false },
    { left: 1614, top: 164, width: 2041, height: 1501, show: false }
  ],
  xAxis: xAxes,
  yAxis: yAxes,
  legend: {
    orient: 'vertical', left: 3067, top: 388,
    padding: [12, 21, 19, 15], itemGap: 16.8, itemWidth: 95, itemHeight: 5, icon: 'rect',
    backgroundColor: 'rgba(255,255,255,0.8)', borderColor: '#d4d4d4', borderWidth: 3, borderRadius: 12,
    selectedMode: false, z: 30,
    textStyle: { fontSize: 45, fontFamily: FONT, color: '#000', lineHeight: 50, padding: [0, 0, 0, 32] },
    data: [
      { name: 'model continuum', itemStyle: { color: '#b1caf6' } },
      { name: 'model', itemStyle: { color: '#ffd27f' } },
      { name: 'true continuum', itemStyle: { color: '#7fbf7f' } },
      { name: 'true flux', itemStyle: { color: '#7f7fff' } },
      { name: 'mock flux', itemStyle: { color: '#000000' } },
      { name: 'mock noise', itemStyle: { color: '#ff00ff' } }
    ]
  },
  graphic,
  series
};

const chart = echarts.init(document.getElementById('chart'), null, { renderer: 'canvas', width: 3663, height: 1816 });
chart.setOption(option);
</script>
</body>
</html>
